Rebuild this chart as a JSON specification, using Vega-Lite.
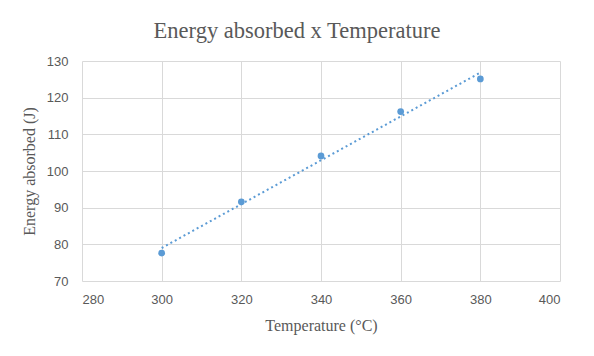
{
  "$schema": "https://vega.github.io/schema/vega-lite/v6.json",
  "width": 478,
  "height": 220,
  "autosize": {"type": "none"},
  "padding": {"left": 82, "top": 61, "right": 34, "bottom": 75},
  "background": "white",
  "title": {
    "text": "Energy absorbed x Temperature",
    "font": "Liberation Serif",
    "fontSize": 22.5,
    "fontWeight": "normal",
    "color": "#595959",
    "anchor": "middle",
    "dx": -24,
    "offset": 13
  },
  "data": {
    "values": [
      {"temperature": 300, "energy": 77.6},
      {"temperature": 320, "energy": 91.6},
      {"temperature": 340, "energy": 104.1},
      {"temperature": 360, "energy": 116.2},
      {"temperature": 380, "energy": 125.1}
    ]
  },
  "config": {
    "view": {"stroke": null},
    "axis": {
      "labelFont": "Liberation Sans",
      "labelFontSize": 13,
      "labelColor": "#595959",
      "titleFont": "Liberation Serif",
      "titleFontSize": 16,
      "titleFontWeight": "normal",
      "titleColor": "#595959",
      "gridColor": "#d9d9d9",
      "gridWidth": 1,
      "ticks": false,
      "domain": false
    }
  },
  "encoding": {
    "x": {
      "field": "temperature",
      "type": "quantitative",
      "scale": {"domain": [280, 400], "nice": false, "zero": false},
      "axis": {"values": [280, 300, 320, 340, 360, 380, 400], "title": "Temperature (°C)", "labelPadding": 12, "titlePadding": 11}
    },
    "y": {
      "field": "energy",
      "type": "quantitative",
      "scale": {"domain": [70, 130], "nice": false, "zero": false},
      "axis": {"values": [70, 80, 90, 100, 110, 120, 130], "title": "Energy absorbed (J)", "labelPadding": 14, "titlePadding": 9}
    }
  },
  "layer": [
    {
      "transform": [{"regression": "energy", "on": "temperature"}],
      "mark": {"type": "line", "color": "#5b9bd5", "strokeWidth": 2, "strokeDash": [2, 3]}
    },
    {
      "mark": {"type": "circle", "color": "#5b9bd5", "size": 45, "opacity": 1}
    }
  ]
}
